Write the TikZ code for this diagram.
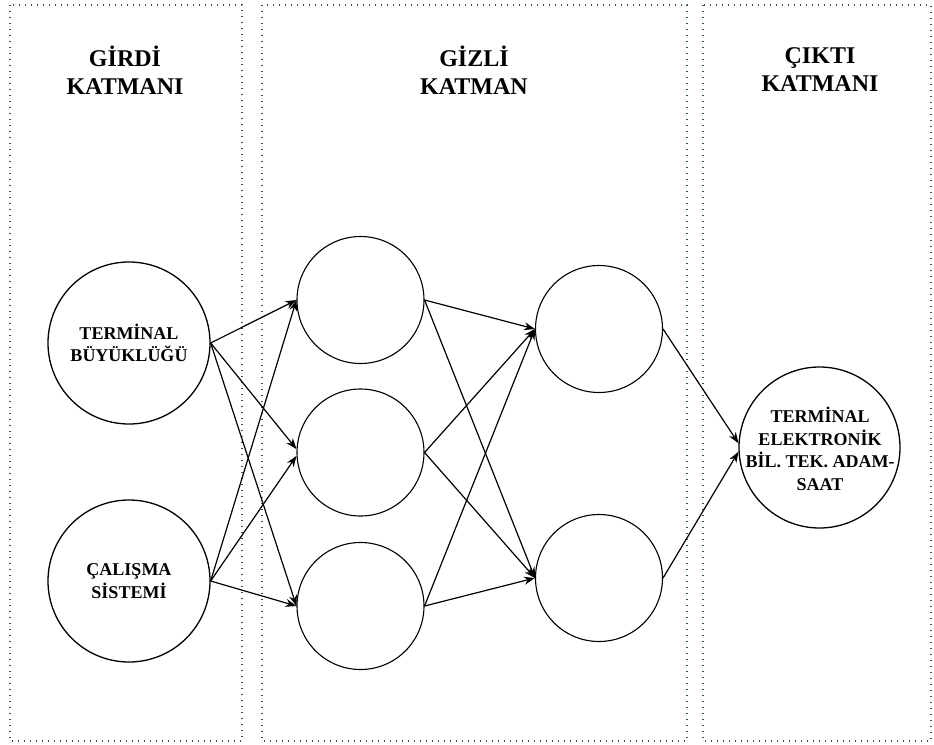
\documentclass[tikz,border=0pt]{standalone}
\usepackage{fontspec}
\setmainfont{Liberation Serif}
\usetikzlibrary{arrows.meta}
\definecolor{framecol}{RGB}{50,80,90}
\tikzset{
  frame/.style={draw=framecol, line width=1.2pt, dash pattern=on 1.2pt off 4.8pt},
  neuron/.style={circle, draw=black, line width=1.3pt, inner sep=0pt, align=center,
     font=\bfseries\fontsize{18}{22.7}\selectfont},
  ntext/.style={inner sep=0pt, align=center, font=\bfseries\fontsize{18}{22.7}\selectfont},
  hid/.style={circle, draw=black, line width=1.1pt, inner sep=0pt, minimum size=127pt},
  title/.style={align=center, font=\bfseries\fontsize{24}{28}\selectfont},
  conn/.style={line width=1.2pt, -{Stealth[length=11pt,width=8pt]}},
}
\begin{document}
\begin{tikzpicture}[x=1pt,y=-1pt]
\useasboundingbox (0,0) rectangle (934,744);
% frames
\draw[frame] (10,5) rectangle (242,741);
\draw[frame] (262,5) rectangle (687,741);
\draw[frame] (703,5) rectangle (931,741);
% titles
\node[title] (t1) at (125,70) {GİRDİ\\KATMANI};
\node[title] (t2) at (474,70) {GİZLİ\\KATMAN};
\node[title] (t3) at (820,70) {ÇIKTI\\KATMANI};
% input
\node[neuron, minimum size=162pt] (i1) at (129,343) {TERMİNAL\\BÜYÜKLÜĞÜ};
\node[neuron, minimum size=162pt] (i2) at (129,581) {ÇALIŞMA\\SİSTEMİ};
% hidden 1
\node[hid] (a1) at (360.5,300) {};
\node[hid] (a2) at (360.5,452.5) {};
\node[hid] (a3) at (360.5,606) {};
% hidden 2
\node[hid] (b1) at (599,329) {};
\node[hid] (b2) at (599,578) {};
% output
\node[neuron, minimum size=161pt] (o) at (819.5,447.5) {};
\node[ntext] (ot) at (820,449) {TERMİNAL\\ELEKTRONİK\\BİL. TEK. ADAM-\\SAAT};
% connections input -> hidden1
\draw[conn] (i1.east) -- (a1.west);
\draw[conn] (i1.east) -- (a2.177);
\draw[conn] (i1.east) -- (a3.west);
\draw[conn] (i2.east) -- (a1.west);
\draw[conn] (i2.east) -- (a2.183);
\draw[conn] (i2.east) -- (a3.west);
% hidden1 -> hidden2
\draw[conn] (a1.east) -- (b1.west);
\draw[conn] (a1.east) -- (b2.west);
\draw[conn] (a2.east) -- (b1.west);
\draw[conn] (a2.east) -- (b2.west);
\draw[conn] (a3.east) -- (b1.west);
\draw[conn] (a3.east) -- (b2.west);
% hidden2 -> output
\draw[conn] (b1.east) -- (o.177);
\draw[conn] (b2.east) -- (o.183);
\end{tikzpicture}
\end{document}
